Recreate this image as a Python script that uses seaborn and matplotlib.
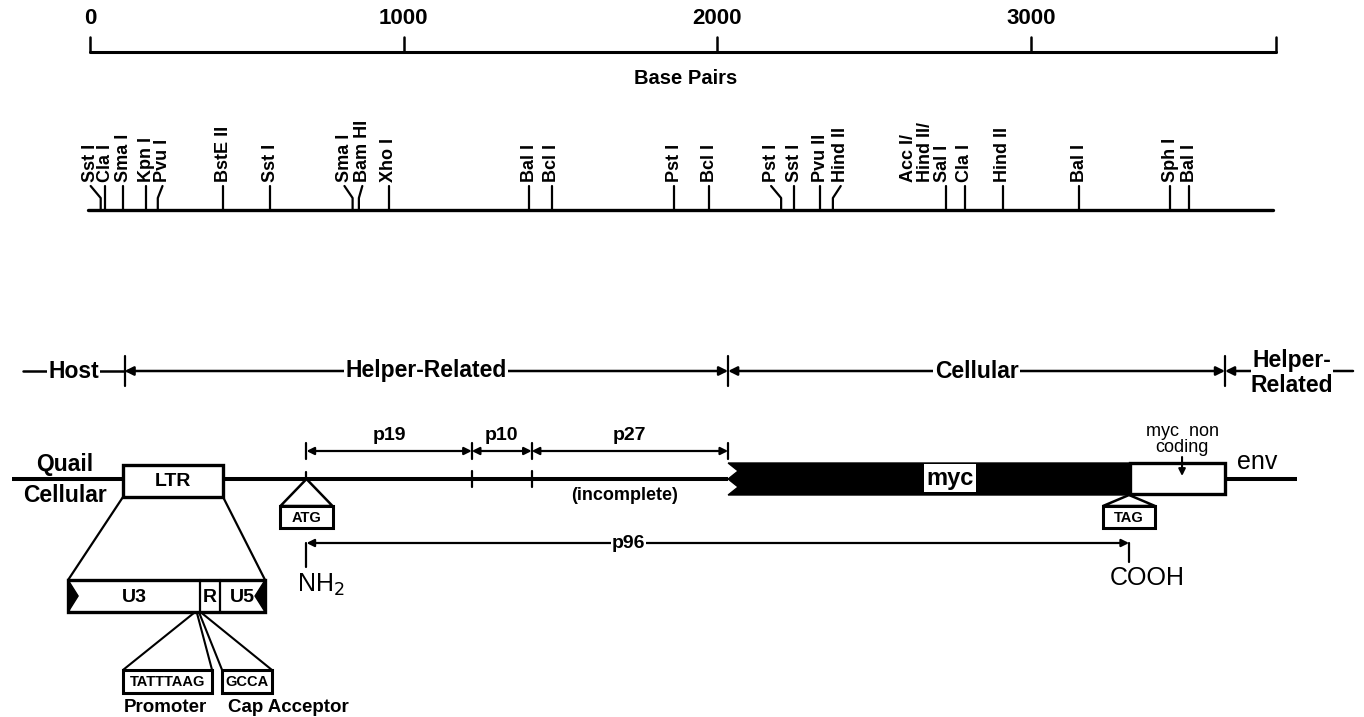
import matplotlib
matplotlib.use("Agg")
import matplotlib.pyplot as plt
from matplotlib.patches import Rectangle, Polygon
import pandas as pd
import seaborn as sns

# --- data (positions in base pairs) ---
scale_ticks = [0, 1000, 2000, 3000]
scale_end = 3780

site_names = ["Sst I", "Cla I", "Sma I", "Kpn I", "Pvu I", "BstE II", "Sst I",
              "Sma I", "Bam HI", "Xho I", "Bal I", "Bcl I", "Pst I", "Bcl I",
              "Pst I", "Sst I", "Pvu II", "Hind II", "Acc I/\nHind II/\nSal I",
              "Cla I", "Hind II", "Bal I", "Sph I", "Bal I"]
site_bp = [34, 48, 106, 179, 216, 425, 574, 837, 857, 953, 1400, 1472, 1863,
           1974, 2203, 2245, 2327, 2368, 2728, 2789, 2910, 3154, 3443, 3504]
# label centre where the tick had to be bent away from a crowded neighbour
site_label_bp = {0: 2, 4: 231, 7: 811, 8: 868, 14: 2171, 17: 2393, 18: 2664}

region_names = ["Host", "Helper-Related", "Cellular"]
region_bounds = [-214, 110, 2034, 3618]
last_region = ["Helper-", "Related"]
last_region_end = 4026

gag_names = ["p19", "p10", "p27"]
gag_bounds = [690, 1217, 1408, 2034]

genome_ends = [-249, 3848]
ltr_bp = [105, 424]
myc_coding = [2034, 3315]
myc_noncoding = [3315, 3618]
noncoding_arrow_bp = 3481
p96_bp = [690, 3312]

ltr_parts = ["U3", "R", "U5"]
ltr_part_bounds = [-70, 351, 414, 558]
motif_names = ["TATTTAAG", "GCCA"]
motif_bounds = [(105, 389), (421, 580)]
motif_roles = ["Promoter", "Cap Acceptor"]
motif_root = [335, 347]

sns.set_theme(style="white")
plt.rcParams["font.family"] = ["Liberation Sans", "DejaVu Sans"]
plt.rcParams["text.color"] = "black"
K = "black"

fig = plt.figure(figsize=(13.64, 7.17), dpi=100)
ax = fig.add_axes([0, 0, 1, 1])

# scale bar
sns.lineplot(x=[0, scale_end], y=[52, 52], ax=ax, color=K, lw=2.2,
             estimator=None, sort=False)
for t in scale_ticks + [scale_end]:
    ax.plot([t, t], [52, 37], color=K, lw=1.8)
for t in scale_ticks:
    ax.text(t, 19, str(t), ha="center", va="center", fontsize=16,
            fontweight="bold")
ax.text(scale_end / 2 + 10, 79, "Base Pairs", ha="center", va="center",
        fontsize=14.5, fontweight="bold")

# restriction map
base_y, bend_y, top_y, lab_y = 210, 198, 186, 182
sns.lineplot(x=[-6, scale_end - 10], y=[base_y, base_y], ax=ax, color=K,
             lw=2.4, estimator=None, sort=False)
for i, (name, pos) in enumerate(zip(site_names, site_bp)):
    lx = site_label_bp.get(i, pos)
    if i == 18:
        ax.plot([pos, pos], [base_y, top_y], color=K, lw=1.6)
    elif lx != pos:
        ax.plot([pos, pos, lx], [base_y, bend_y, top_y], color=K, lw=1.6)
    else:
        ax.plot([pos, pos], [base_y, top_y], color=K, lw=1.6)
    ax.text(lx, lab_y, name, rotation=90, ha="center", va="bottom", ma="left",
            fontsize=13, fontweight="bold", linespacing=1.0)

# origin of sequences
ry = 371
arrow = dict(arrowstyle="-|>", color=K, lw=1.8, mutation_scale=13,
             shrinkA=0, shrinkB=0)
for b in region_bounds[1:]:
    ax.plot([b, b], [356, 386], color=K, lw=1.6)
ax.plot(region_bounds[:2], [ry, ry], color=K, lw=1.8)
for i, name in enumerate(region_names):
    lo, hi = region_bounds[i], region_bounds[i + 1]
    mid = (lo + hi) / 2
    if i > 0:
        ax.annotate("", xy=(lo, ry), xytext=(mid, ry), arrowprops=arrow)
        ax.annotate("", xy=(hi, ry), xytext=(mid, ry), arrowprops=arrow)
    ax.text(mid, ry, name, ha="center", va="center", fontsize=16.5,
            fontweight="bold", bbox=dict(fc="white", ec="none", pad=1))
ax.annotate("", xy=(region_bounds[-1], ry), xytext=(last_region_end, ry),
            arrowprops=arrow)
ax.text(3832, 361, last_region[0], ha="center", va="center", fontsize=16.5,
        fontweight="bold", bbox=dict(fc="white", ec="none", pad=1))
ax.text(3832, 385, last_region[1], ha="center", va="center", fontsize=16.5,
        fontweight="bold")

# genome map
gy = 479
ax.plot([genome_ends[0], ltr_bp[0]], [gy, gy], color=K, lw=2.9,
        solid_capstyle="butt")
ax.plot([ltr_bp[1], myc_coding[0]], [gy, gy], color=K, lw=2.9,
        solid_capstyle="butt")
ax.plot([myc_noncoding[1], genome_ends[1]], [gy, gy], color=K, lw=2.9,
        solid_capstyle="butt")
ax.text(-80, 465, "Quail", ha="center", va="center", fontsize=16.5,
        fontweight="bold")
ax.text(-80, 496, "Cellular", ha="center", va="center", fontsize=16.5,
        fontweight="bold")

ax.add_patch(Rectangle((ltr_bp[0], 465), ltr_bp[1] - ltr_bp[0], 32,
                       fc="white", ec=K, lw=2.4, zorder=3))
ax.text(sum(ltr_bp) / 2, 481, "LTR", ha="center", va="center", fontsize=14,
        fontweight="bold", zorder=4)

# gag cleavage products
by = 451
for b in gag_bounds:
    ax.plot([b, b], [443, 459], color=K, lw=1.6)
for b in gag_bounds[1:3]:
    ax.plot([b, b], [471, 487], color=K, lw=1.6)
ax.plot([gag_bounds[0]] * 2, [472, 487], color=K, lw=1.6)
both = dict(arrowstyle="<|-|>", color=K, lw=1.6, mutation_scale=11,
            shrinkA=0, shrinkB=0)
for i, name in enumerate(gag_names):
    lo, hi = gag_bounds[i], gag_bounds[i + 1]
    ax.annotate("", xy=(lo, by), xytext=(hi, by), arrowprops=both)
    ax.text((lo + hi) / 2, 436, name, ha="center", va="center", fontsize=14,
            fontweight="bold")
ax.text(1705, 496, "(incomplete)", ha="center", va="center", fontsize=13,
        fontweight="bold")


def codon_box(x, apex_y, label):
    w = 83
    ax.add_patch(Polygon([(x, apex_y), (x - w, 506), (x + w, 506)],
                         closed=True, fc="white", ec=K, lw=1.8, zorder=2))
    ax.add_patch(Rectangle((x - w, 506), 2 * w, 22, fc="white", ec=K,
                           lw=2.2, zorder=2))
    ax.text(x, 517.5, label, ha="center", va="center", fontsize=10.5,
            fontweight="bold", zorder=5)


# myc coding block with ragged junction
x0, x1, dx = myc_coding[0], myc_coding[1], 32
ax.add_patch(Polygon([(x0, 463), (x1, 463), (x1, 495), (x0, 495),
                      (x0 + dx, 487), (x0, 479), (x0 + dx, 471)],
                     closed=True, fc=K, ec=K, lw=1, zorder=3))
ax.text(2741, 478, "myc", ha="center", va="center", fontsize=17, zorder=4,
        fontweight="bold", bbox=dict(fc="white", ec="none", pad=1.5))
ax.add_patch(Rectangle((myc_noncoding[0], 463), myc_noncoding[1] - myc_noncoding[0],
                       31, fc="white", ec=K, lw=2.4, zorder=3))
ax.annotate("", xy=(noncoding_arrow_bp, 476), xytext=(noncoding_arrow_bp, 457),
            arrowprops=dict(arrowstyle="-|>", color=K, lw=1.5,
                            mutation_scale=10, shrinkA=0, shrinkB=0), zorder=5)
ax.text(noncoding_arrow_bp, 432, "myc  non", ha="center", va="center",
        fontsize=13)
ax.text(noncoding_arrow_bp, 448, "coding", ha="center", va="center",
        fontsize=13)
ax.text(3720, 462, "env", ha="center", va="center", fontsize=18)

codon_box(gag_bounds[0], gy, "ATG")
codon_box(p96_bp[1], 495, "TAG")

# p96 fusion protein
py = 543
ax.annotate("", xy=(p96_bp[0], py), xytext=(p96_bp[1], py), arrowprops=both)
ax.plot([p96_bp[0]] * 2, [py, 567], color=K, lw=1.6)
ax.plot([p96_bp[1]] * 2, [py, 562], color=K, lw=1.6)
ax.text(1715, py, "p96", ha="center", va="center", fontsize=14,
        fontweight="bold", bbox=dict(fc="white", ec="none", pad=0.5))
ax.text(p96_bp[0] - 30, 585, r"NH$_2$", ha="left", va="center", fontsize=18)
ax.text(p96_bp[1] - 60, 578, "COOH", ha="left", va="center", fontsize=18)

# LTR expansion
uy0, uy1 = 580, 612
ax.plot([ltr_bp[0], ltr_part_bounds[0]], [497, uy0], color=K, lw=1.6)
ax.plot([ltr_bp[1], ltr_part_bounds[-1]], [497, uy0], color=K, lw=1.6)
ax.add_patch(Rectangle((ltr_part_bounds[0], uy0),
                       ltr_part_bounds[-1] - ltr_part_bounds[0], uy1 - uy0,
                       fc="white", ec=K, lw=2.4, zorder=3))
for b in ltr_part_bounds[1:3]:
    ax.plot([b, b], [uy0, uy1], color=K, lw=1.6, zorder=4)
lo, hi, um = ltr_part_bounds[0], ltr_part_bounds[-1], (uy0 + uy1) / 2
ax.add_patch(Polygon([(lo, uy0), (lo + 32, um), (lo, uy1)], fc=K, ec=K,
                     zorder=4))
ax.add_patch(Polygon([(hi, uy0), (hi - 32, um), (hi, uy1)], fc=K, ec=K,
                     zorder=4))
for i, name in enumerate(ltr_parts):
    c = (ltr_part_bounds[i] + ltr_part_bounds[i + 1]) / 2
    ax.text(c, um + 1, name, ha="center", va="center", fontsize=14,
            fontweight="bold", zorder=5)

my0, my1 = 670, 693
for root, (a, b), name, role in zip(motif_root, motif_bounds, motif_names,
                                    motif_roles):
    ax.plot([root, a], [uy1, my0], color=K, lw=1.5)
    ax.plot([root + 5, b], [uy1, my0], color=K, lw=1.5)
    ax.add_patch(Rectangle((a, my0), b - a, my1 - my0, fc="white", ec=K,
                           lw=2.2, zorder=3))
    ax.text((a + b) / 2, (my0 + my1) / 2, name, ha="center", va="center",
            fontsize=10.5, fontweight="bold", zorder=4)
ax.text(239, 707, motif_roles[0], ha="center", va="center", fontsize=13.5,
        fontweight="bold")
ax.text(631, 707, motif_roles[1], ha="center", va="center", fontsize=13.5,
        fontweight="bold")

ax.set_xlim(-287, 4061)
ax.set_ylim(717, 0)
ax.axis("off")
fig.savefig("out.png", dpi=100, facecolor="white")
